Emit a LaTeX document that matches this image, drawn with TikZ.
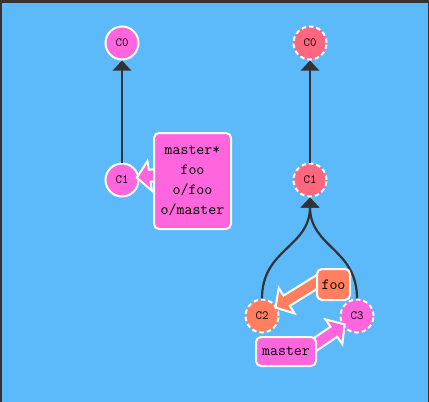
\documentclass[tikz,border=0pt]{standalone}
\usepackage{fontspec}
\usetikzlibrary{calc,arrows.meta}
\definecolor{bgblue}{RGB}{92,185,250}
\definecolor{frame}{RGB}{51,51,51}
\definecolor{magen}{RGB}{255,102,221}
\definecolor{redpink}{RGB}{255,102,128}
\definecolor{salmon}{RGB}{255,127,96}
\definecolor{linkc}{RGB}{51,51,51}
\newcommand{\fatarr}[3]{%
  \path ($(#3)!13pt!(#2)$) coordinate (fa-h);
  \filldraw[fill=#1, draw=white, line width=2pt, line join=miter]
    ($(#2)!6pt!90:(#3)$) -- ($(fa-h)!6pt!-90:(#2)$) -- ($(fa-h)!15pt!-90:(#2)$) -- (#3)
    -- ($(fa-h)!15pt!90:(#2)$) -- ($(fa-h)!6pt!90:(#2)$) -- ($(#2)!6pt!-90:(#3)$) -- cycle;
}
\tikzset{
  commit/.style={circle, minimum size=33pt, inner sep=0pt, draw=white, line width=2pt,
    font=\ttfamily\fontsize{12.5}{13}\selectfont, text=black},
  remote/.style={commit, dash pattern=on 4.5pt off 3pt},
  link/.style={draw=linkc, line width=2.2pt, -{Triangle[width=18pt,length=10pt]}},
  branchbox/.style={rounded corners=5pt, draw=white, line width=2pt, inner sep=0pt,
    align=center, text=black, font=\ttfamily\fontsize{15.5}{20}\selectfont},
}
\begin{document}
\begin{tikzpicture}[x=1pt,y=-1pt]
\useasboundingbox (0,0) rectangle (429,402);
\fill[frame] (0,0) rectangle (429,402);
\fill[bgblue] (2,3) rectangle (427.5,402);
% left repo
\node[commit, fill=magen] (C0L) at (122,43) {C0};
\node[commit, fill=magen] (C1L) at (122,180) {C1};
\draw[link] (C1L) -- (C0L);
% right repo
\node[remote, fill=redpink] (C0R) at (310,43) {C0};
\node[remote, fill=redpink] (C1R) at (310,180) {C1};
\node[remote, fill=salmon] (C2R) at (262,316) {C2};
\node[remote, fill=magen] (C3R) at (357,316) {C3};
\draw[link] (C1R) -- (C0R);
\draw[link] (C2R.north) .. controls ($(C2R.north)+(0,-50)$) and ($(C1R.south)+(0,50)$) .. (C1R.south);
\draw[link] (C3R.north) .. controls ($(C3R.north)+(0,-50)$) and ($(C1R.south)+(0,50)$) .. (C1R.south);
% branch arrows
\coordinate (lT) at (162,174);
\coordinate (lTip) at ($(C1L)!15pt!(lT)$);
\fatarr{magen}{lT}{lTip}
\coordinate (fT) at (320,280);
\coordinate (fTip) at ($(C2R)!16pt!(fT)$);
\fatarr{salmon}{fT}{fTip}
\coordinate (mT) at (310,348);
\coordinate (mTip) at ($(C3R)!15pt!(mT)$);
\fatarr{magen}{mT}{mTip}
% branch labels
\node[branchbox, fill=magen, minimum width=77pt, minimum height=96pt] (lbl) at (192.5,181)
  {master*\\foo\\o/foo\\o/master};
\node[branchbox, fill=salmon, minimum width=33pt, minimum height=31pt] (foo) at (333.5,284.5) {foo};
\node[branchbox, fill=magen, minimum width=60pt, minimum height=29pt] (mst) at (286,351.5) {master};
\end{tikzpicture}
\end{document}
